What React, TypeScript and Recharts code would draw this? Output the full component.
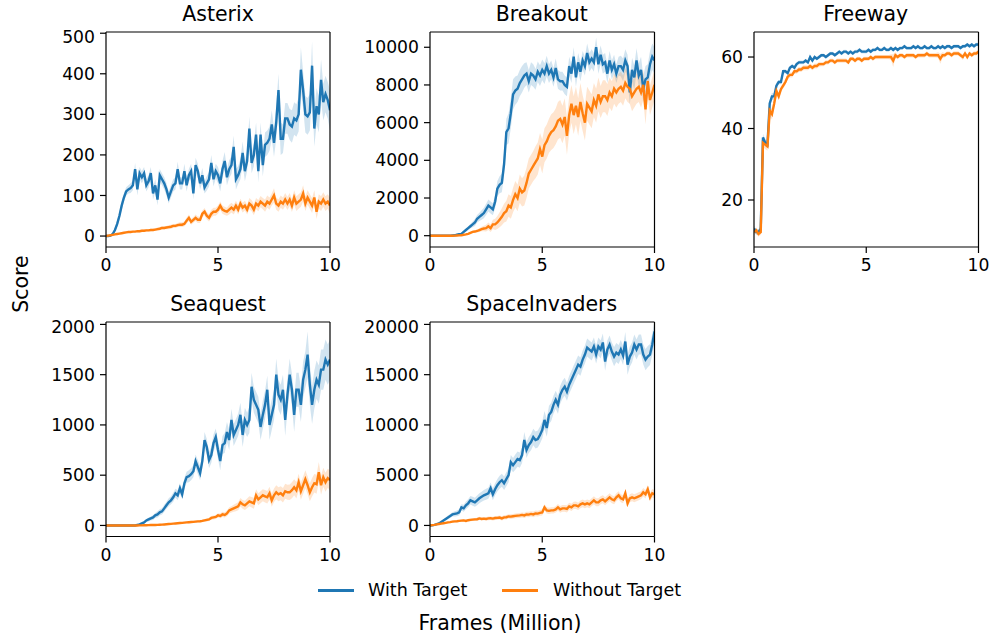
import { ComposedChart, Line, Area, XAxis, YAxis, ReferenceLine } from 'recharts';

const FONT = "'DejaVu Sans', sans-serif";
const BLUE = '#1f77b4';
const ORANGE = '#ff7f0e';

// frames in millions, one sample every 0.1M
const FRAMES = Array.from({ length: 101 }, (_, i) => i / 10);
const X_TICKS = [0, 5, 10];

const AST_W = [
  0, 0, 1, 5, 15, 30, 50, 75, 95, 110,
  115, 118, 125, 165, 115, 155, 145, 155, 125, 135,
  155, 105, 125, 90, 150, 140, 130, 115, 95, 110,
  125, 130, 165, 130, 130, 160, 125, 150, 160, 105,
  175, 160, 130, 150, 120, 130, 140, 180, 140, 160,
  150, 130, 165, 185, 145, 165, 175, 220, 140, 150,
  165, 205, 160, 185, 265, 180, 200, 250, 160, 250,
  175, 225, 230, 240, 275, 230, 280, 360, 240, 240,
  290, 290, 275, 270, 290, 285, 300, 410, 360, 300,
  295, 305, 420, 265, 320, 300, 385, 330, 350, 335,
  310,
];
const AST_W_SD = [
  1, 1, 2, 3, 5, 8, 10, 10, 10, 10,
  10, 12, 12, 15, 15, 15, 15, 15, 15, 15,
  15, 15, 15, 15, 15, 15, 15, 15, 15, 15,
  15, 15, 18, 15, 15, 18, 15, 15, 18, 15,
  18, 18, 15, 18, 15, 18, 18, 20, 18, 18,
  20, 20, 20, 22, 20, 22, 22, 28, 25, 22,
  25, 28, 25, 25, 30, 25, 28, 30, 28, 30,
  28, 30, 30, 30, 35, 35, 40, 40, 40, 35,
  38, 38, 38, 40, 40, 40, 42, 55, 45, 45,
  45, 45, 60, 45, 45, 45, 50, 45, 45, 45,
  50,
];
const AST_O = [
  0, 1, 2, 3, 4, 5, 6, 7, 8, 9,
  10, 10, 11, 11, 12, 12, 13, 13, 14, 14,
  15, 15, 16, 17, 18, 20, 20, 21, 22, 23,
  25, 25, 27, 28, 28, 30, 38, 45, 35, 40,
  45, 40, 40, 55, 60, 50, 45, 55, 60, 60,
  65, 75, 65, 62, 60, 65, 70, 65, 75, 65,
  80, 70, 75, 65, 80, 75, 65, 80, 75, 85,
  80, 75, 85, 80, 90, 100, 80, 75, 85, 80,
  90, 80, 90, 75, 95, 80, 85, 90, 105, 80,
  95, 85, 75, 95, 60, 85, 80, 90, 80, 85,
  75,
];
const AST_O_SD = [
  1, 1, 1, 1, 1, 2, 2, 2, 2, 2,
  2, 2, 2, 2, 3, 3, 3, 3, 3, 3,
  3, 3, 3, 4, 4, 4, 4, 4, 5, 5,
  5, 5, 5, 6, 6, 6, 7, 8, 7, 7,
  8, 8, 8, 8, 9, 9, 9, 10, 10, 10,
  10, 10, 10, 10, 10, 12, 12, 12, 12, 12,
  12, 12, 12, 12, 14, 14, 14, 14, 14, 14,
  14, 15, 15, 15, 15, 18, 15, 15, 15, 15,
  16, 16, 16, 16, 18, 18, 18, 18, 20, 18,
  18, 18, 18, 18, 18, 18, 18, 18, 18, 18,
  20,
];

const BRK_W = [
  0, 0, 0, 0, 0, 0, 0, 0, 0, 0,
  10, 20, 50, 80, 100, 200, 300, 400, 500, 600,
  700, 900, 1000, 1100, 1200, 1400, 1600, 1500, 1400, 1800,
  2500, 2700, 2800, 3800, 5500, 5700, 6500, 7500, 7700, 7800,
  8100, 8300, 8500, 8600, 8200, 8600, 8500, 8300, 8700, 8500,
  8800, 8600, 9000, 8600, 8800, 8400, 8900, 8300, 8200, 8200,
  8000, 7900, 9000, 8600, 9500, 8400, 9200, 8700, 9300, 9000,
  9700, 9200, 9400, 9200, 10000, 9100, 9600, 9100, 9200, 8600,
  9300, 8800, 9100, 8600, 9000, 9000, 8800, 9300, 9000, 7600,
  8800, 8400, 9300, 8500, 8800, 7800, 8300, 8400, 9100, 9500,
  9300,
];
const BRK_W_SD = [
  0, 0, 0, 0, 0, 0, 0, 0, 0, 0,
  10, 20, 30, 40, 50, 60, 80, 100, 120, 150,
  180, 200, 220, 250, 280, 300, 320, 320, 320, 350,
  400, 450, 500, 600, 700, 800, 800, 800, 750, 700,
  700, 700, 650, 600, 600, 600, 600, 550, 550, 550,
  550, 550, 550, 500, 500, 500, 500, 500, 500, 500,
  500, 500, 500, 500, 500, 500, 500, 500, 500, 500,
  500, 500, 500, 500, 500, 500, 500, 500, 500, 500,
  500, 500, 500, 500, 500, 550, 600, 600, 600, 650,
  650, 650, 650, 650, 700, 700, 700, 700, 700, 700,
  700,
];
const BRK_O = [
  0, 0, 0, 0, 0, 0, 0, 0, 0, 0,
  0, 5, 10, 15, 20, 50, 70, 100, 150, 200,
  220, 250, 300, 350, 380, 400, 500, 400, 600, 600,
  700, 850, 1000, 1200, 1300, 1600, 1500, 1900, 2200, 2000,
  2500, 2300, 2400, 2800, 3300, 3500, 3700, 3900, 4100, 4600,
  4200, 4800, 5000, 5300, 5500, 5600, 5800, 6100, 6200, 5900,
  6300, 5300, 6400, 7000, 6400, 6900, 6300, 7100, 6500, 6000,
  7000, 6800, 6600, 7200, 6900, 7500, 7100, 7400, 7400, 7200,
  7600, 7400, 7800, 7600, 7800, 7900, 7700, 8100, 7900, 7800,
  7400, 7600, 7800, 7900, 7600, 8000, 6700, 8200, 7200, 7600,
  8000,
];
const BRK_O_SD = [
  0, 0, 0, 0, 0, 0, 0, 0, 0, 0,
  0, 5, 5, 10, 10, 20, 30, 40, 50, 60,
  70, 80, 100, 120, 150, 180, 200, 200, 250, 300,
  350, 400, 450, 500, 550, 600, 600, 650, 700, 700,
  750, 750, 800, 800, 800, 800, 800, 850, 850, 850,
  900, 900, 900, 900, 950, 950, 950, 1000, 1000, 1000,
  1000, 1000, 1000, 1000, 1000, 1000, 1000, 1000, 950, 950,
  900, 900, 900, 900, 900, 900, 850, 850, 850, 850,
  800, 800, 800, 800, 800, 800, 800, 800, 800, 800,
  800, 800, 800, 800, 800, 800, 800, 800, 800, 800,
  800,
];

const FRW_W = [
  12, 11, 11, 12, 37.5, 36, 35.5, 47, 49, 49,
  52, 53, 53, 56, 56, 55.5, 57, 57.5, 57, 58,
  58.5, 58.5, 58.5, 59, 58.5, 60, 59, 60, 59.5, 60,
  60.5, 60.5, 60, 60.5, 61, 61, 60.5, 61, 61.5, 61,
  61.5, 61.5, 61, 61.5, 61, 61.5, 61.5, 62, 61.5, 61.5,
  61.5, 62, 61.5, 62, 62, 62.5, 62, 62, 62.5, 62,
  62, 62.5, 62, 62.5, 62, 62.5, 62.5, 63, 62.5, 62.5,
  62.5, 63, 62.5, 63, 62.5, 62.5, 63, 62.5, 62.5, 63,
  62.5, 62.5, 63, 62.5, 63, 62.5, 63, 63, 62.5, 63,
  63, 63, 62.5, 63, 63, 63.5, 63, 63.5, 63, 63.5,
  63.5,
];
const FRW_W_SD = [
  0.8, 0.8, 0.8, 0.8, 1, 1, 1, 1, 1, 0.8,
  0.8, 0.6, 0.6, 0.6, 0.6, 0.5, 0.5, 0.5, 0.5, 0.5,
  0.5, 0.5, 0.5, 0.5, 0.5, 0.5, 0.5, 0.5, 0.5, 0.5,
  0.5, 0.5, 0.5, 0.5, 0.5, 0.5, 0.5, 0.5, 0.5, 0.5,
  0.5, 0.5, 0.5, 0.5, 0.5, 0.5, 0.5, 0.5, 0.5, 0.5,
  0.5, 0.5, 0.5, 0.5, 0.5, 0.5, 0.5, 0.5, 0.5, 0.5,
  0.5, 0.5, 0.5, 0.5, 0.5, 0.5, 0.5, 0.5, 0.5, 0.5,
  0.5, 0.5, 0.5, 0.5, 0.5, 0.5, 0.5, 0.5, 0.5, 0.5,
  0.5, 0.5, 0.5, 0.5, 0.5, 0.5, 0.5, 0.5, 0.5, 0.5,
  0.5, 0.5, 0.5, 0.5, 0.5, 0.5, 0.5, 0.5, 0.5, 0.5,
  0.5,
];
const FRW_O = [
  11, 11.5, 10.5, 11, 36, 35.5, 35, 45, 44, 47,
  50.5, 49, 51, 52, 53, 54.5, 55, 55, 56, 56,
  56.5, 56.5, 57, 57, 57, 57.5, 57, 57.5, 57.5, 58,
  58, 58, 58.5, 58.5, 59, 59, 58.5, 59, 59, 59,
  59, 59, 58.5, 59.5, 59.5, 59, 59.5, 59.5, 59, 59.5,
  59.5, 59.5, 60, 59.5, 60, 60, 60, 60, 60, 60,
  60, 60, 59, 60.5, 60, 60.5, 60.5, 60, 60.5, 60.5,
  60.5, 60.5, 60, 60.5, 60.5, 60.5, 60.5, 61, 60.5, 60.5,
  60.5, 60.5, 60.5, 59.5, 60.5, 60.5, 61, 61, 60.5, 61,
  61, 61, 60.5, 60, 61, 60, 61, 60.5, 61, 61,
  61.5,
];
const FRW_O_SD = [
  0.8, 0.8, 0.8, 0.8, 1.2, 1.2, 1.2, 1.5, 1.5, 1.2,
  1, 1, 0.8, 0.8, 0.8, 0.7, 0.7, 0.7, 0.7, 0.7,
  0.7, 0.7, 0.7, 0.7, 0.7, 0.7, 0.7, 0.7, 0.7, 0.7,
  0.6, 0.6, 0.6, 0.6, 0.6, 0.6, 0.6, 0.6, 0.6, 0.6,
  0.6, 0.6, 0.6, 0.6, 0.6, 0.6, 0.6, 0.6, 0.6, 0.6,
  0.6, 0.6, 0.6, 0.6, 0.6, 0.6, 0.6, 0.6, 0.6, 0.6,
  0.6, 0.8, 1.8, 0.8, 0.6, 0.6, 0.6, 0.6, 0.6, 0.6,
  0.6, 0.6, 0.6, 0.6, 0.6, 0.6, 0.6, 0.6, 0.6, 0.6,
  0.6, 0.6, 0.8, 1.4, 0.8, 0.6, 0.6, 0.6, 0.6, 0.6,
  0.6, 0.6, 0.6, 0.8, 0.6, 0.8, 0.6, 0.6, 0.6, 0.6,
  0.6,
];

const SEA_W = [
  0, 0, 0, 0, 0, 0, 0, 0, 0, 0,
  0, 0, 0, 0, 5, 10, 20, 30, 50, 60,
  70, 80, 100, 110, 130, 140, 170, 200, 230, 250,
  280, 320, 300, 370, 310, 420, 480, 490, 510, 540,
  640, 580, 520, 640, 850, 780, 650, 700, 820, 880,
  750, 640, 800, 820, 930, 850, 1050, 900, 950, 1000,
  1100, 900, 1050, 1000, 1050, 1380, 1250, 1200, 1150, 980,
  1100, 1200, 1350, 1000, 1100, 1200, 1500, 1300, 1250, 1350,
  1050, 1300, 1500, 1350, 1100, 1350, 1350, 1200, 1450, 1550,
  1700, 1400, 1200, 1350, 1450, 1400, 1550, 1550, 1650, 1600,
  1650,
];
const SEA_W_SD = [
  0, 0, 0, 0, 0, 0, 0, 0, 0, 0,
  0, 0, 0, 0, 3, 5, 8, 10, 15, 20,
  20, 25, 25, 30, 30, 30, 35, 35, 40, 40,
  45, 45, 50, 50, 50, 55, 55, 60, 60, 60,
  65, 70, 70, 70, 80, 80, 80, 80, 85, 85,
  90, 90, 90, 100, 100, 100, 110, 110, 110, 110,
  120, 120, 120, 120, 130, 140, 130, 130, 130, 130,
  140, 140, 140, 150, 150, 150, 160, 150, 150, 150,
  160, 160, 160, 160, 170, 170, 170, 170, 180, 180,
  230, 200, 190, 190, 190, 190, 200, 200, 200, 200,
  200,
];
const SEA_O = [
  0, 0, 0, 0, 0, 0, 0, 0, 0, 0,
  0, 0, 0, 0, 0, 1, 1, 2, 2, 3,
  4, 5, 5, 6, 7, 8, 10, 12, 14, 16,
  18, 20, 22, 24, 26, 28, 30, 32, 34, 36,
  38, 40, 42, 45, 50, 55, 60, 75, 80, 85,
  100, 95, 110, 105, 120, 150, 160, 170, 180, 190,
  230, 210, 200, 220, 240, 230, 220, 300, 260, 280,
  300, 290, 280, 320, 250, 300, 330, 310, 320, 300,
  340, 330, 330, 350, 380, 350, 430, 340, 400, 460,
  400, 330, 380, 420, 410, 530, 400, 480, 430, 470,
  450,
];
const SEA_O_SD = [
  0, 0, 0, 0, 0, 0, 0, 0, 0, 0,
  0, 0, 0, 0, 0, 1, 1, 1, 1, 2,
  2, 2, 3, 3, 3, 4, 4, 5, 5, 5,
  6, 6, 7, 7, 8, 8, 9, 9, 10, 10,
  10, 11, 12, 13, 14, 15, 16, 18, 20, 20,
  22, 24, 25, 26, 28, 30, 32, 35, 38, 40,
  42, 44, 46, 48, 50, 52, 55, 60, 60, 60,
  60, 62, 62, 65, 65, 68, 70, 70, 70, 72,
  75, 75, 78, 80, 80, 82, 85, 85, 88, 90,
  90, 90, 92, 92, 95, 100, 95, 95, 95, 95,
  100,
];

const SPI_W = [
  0, 20, 50, 120, 200, 350, 500, 650, 800, 950,
  1100, 1150, 1200, 1300, 1800, 1700, 2000, 2200, 2500, 2400,
  2300, 2500, 2700, 2850, 3000, 3100, 3200, 3700, 3100, 3600,
  4000, 4300, 4500, 4200, 4600, 5000, 6300, 6000, 6300, 6600,
  6500, 7000, 8500, 7500, 8000, 8300, 8800, 8500, 8600, 9000,
  9500, 10500, 9700, 11000, 11300, 12000, 12500, 12000, 13000, 13500,
  13800, 13300, 14000, 14500, 15000, 15500, 16000, 15800, 16500, 17000,
  17700, 17500, 17300, 17800, 17000, 17800, 17500, 18200, 16300, 17500,
  18000, 17300, 16800, 17200, 17000, 17500, 16900, 18300, 16000, 16800,
  17200, 18000, 17500, 18000, 18000, 17000, 16500, 16800, 17000, 18000,
  19300,
];
const SPI_W_SD = [
  0, 20, 40, 60, 80, 100, 120, 150, 180, 200,
  220, 250, 280, 300, 320, 350, 380, 400, 420, 450,
  450, 480, 500, 500, 520, 550, 550, 580, 600, 600,
  620, 650, 650, 680, 700, 700, 720, 720, 750, 750,
  750, 780, 800, 800, 800, 820, 820, 850, 850, 850,
  850, 880, 880, 900, 900, 900, 900, 900, 900, 900,
  900, 900, 900, 900, 900, 900, 900, 900, 900, 900,
  900, 900, 900, 900, 900, 900, 900, 900, 900, 900,
  900, 900, 950, 950, 950, 950, 950, 950, 1000, 1000,
  1000, 1000, 1000, 1000, 1000, 1000, 1050, 1050, 1050, 1050,
  1100,
];
const SPI_O = [
  0, 30, 60, 100, 140, 180, 220, 260, 300, 330,
  380, 400, 420, 450, 480, 500, 450, 520, 550, 580,
  600, 620, 700, 650, 680, 650, 700, 720, 680, 740,
  750, 780, 700, 800, 820, 900, 880, 920, 950, 980,
  1000, 1050, 1000, 1100, 1080, 1150, 1100, 1200, 1180, 1250,
  1300, 1800, 1500, 1450, 1500, 1500, 1600, 1800, 1600, 1700,
  1700, 1650, 1900, 1800, 2000, 2000, 1900, 2100, 2200, 2100,
  2200, 2100, 2300, 2500, 2300, 2300, 2500, 2600, 2400, 2600,
  2800, 2600, 2500, 2800, 3000, 2700, 2600, 3200, 2200, 2700,
  2800, 2700, 2800, 2900, 3000, 3300, 3100, 3600, 2800, 3200,
  3100,
];
const SPI_O_SD = [
  0, 10, 20, 30, 40, 50, 60, 70, 80, 90,
  100, 100, 110, 110, 120, 120, 130, 130, 140, 140,
  150, 150, 160, 160, 170, 170, 180, 180, 190, 190,
  200, 200, 210, 210, 220, 220, 230, 230, 240, 240,
  250, 250, 260, 260, 270, 270, 280, 280, 290, 290,
  300, 300, 300, 310, 310, 320, 320, 330, 330, 340,
  340, 350, 350, 360, 360, 370, 370, 380, 380, 390,
  390, 400, 400, 400, 400, 400, 400, 400, 400, 400,
  400, 400, 400, 400, 400, 400, 400, 400, 400, 400,
  400, 400, 400, 400, 400, 420, 420, 420, 420, 420,
  420,
];

const PANELS = [
  { title: 'Asterix', w: AST_W, wSd: AST_W_SD, o: AST_O, oSd: AST_O_SD, domain: [-27, 503], ticks: [0, 100, 200, 300, 400, 500], left: 106, top: 32, pw: 224, ph: 215 },
  { title: 'Breakout', w: BRK_W, wSd: BRK_W_SD, o: BRK_O, oSd: BRK_O_SD, domain: [-600, 10810], ticks: [0, 2000, 4000, 6000, 8000, 10000], left: 429.5, top: 32, pw: 224.5, ph: 215 },
  { title: 'Freeway', w: FRW_W, wSd: FRW_W_SD, o: FRW_O, oSd: FRW_O_SD, domain: [6.85, 67], ticks: [20, 40, 60], left: 753.5, top: 32, pw: 224.5, ph: 215 },
  { title: 'Seaquest', w: SEA_W, wSd: SEA_W_SD, o: SEA_O, oSd: SEA_O_SD, domain: [-110, 2024], ticks: [0, 500, 1000, 1500, 2000], left: 106, top: 322, pw: 224, ph: 214.5 },
  { title: 'SpaceInvaders', w: SPI_W, wSd: SPI_W_SD, o: SPI_O, oSd: SPI_O_SD, domain: [-1100, 20240], ticks: [0, 5000, 10000, 15000, 20000], left: 429.5, top: 322, pw: 224.5, ph: 214.5 },
];

const YW = 80;
const axisLine = { stroke: '#000', strokeWidth: 1.2 };
const tickStyle = { fill: '#000', fontSize: 17.2, fontFamily: FONT };

function Panel({ p }: { p: typeof PANELS[number] }) {
  const data = FRAMES.map((x, i) => ({
    x,
    w: p.w[i],
    wb: [p.w[i] - p.wSd[i], p.w[i] + p.wSd[i]],
    o: p.o[i],
    ob: [p.o[i] - p.oSd[i], p.o[i] + p.oSd[i]],
  }));
  return (
    <>
      <div style={{ position: 'absolute', left: p.left, width: p.pw, top: p.top - 30, lineHeight: '24px', textAlign: 'center', fontSize: 20.5 }}>
        {p.title}
      </div>
      <div style={{ position: 'absolute', left: p.left - YW, top: p.top - 5 }}>
        <ComposedChart width={YW + p.pw + 20} height={5 + p.ph + 30} data={data} margin={{ top: 5, right: 20, bottom: 0, left: 0 }}>
          <XAxis dataKey="x" type="number" domain={[0, 10]} ticks={X_TICKS} height={30} allowDataOverflow
            tickSize={6} tickMargin={6} tick={tickStyle} axisLine={axisLine} tickLine={axisLine} />
          <YAxis type="number" domain={p.domain} ticks={p.ticks} width={YW} allowDataOverflow
            tickSize={6} tickMargin={5} tick={tickStyle} axisLine={axisLine} tickLine={axisLine} />
          <Area dataKey="wb" type="linear" stroke="none" fill={BLUE} fillOpacity={0.2} isAnimationActive={false} activeDot={false} />
          <Line dataKey="w" type="linear" stroke={BLUE} strokeWidth={2.4} dot={false} isAnimationActive={false} />
          <Area dataKey="ob" type="linear" stroke="none" fill={ORANGE} fillOpacity={0.2} isAnimationActive={false} activeDot={false} />
          <Line dataKey="o" type="linear" stroke={ORANGE} strokeWidth={2.4} dot={false} isAnimationActive={false} />
          <ReferenceLine x={10} stroke="#000" strokeWidth={1.2} />
          <ReferenceLine y={p.domain[1]} stroke="#000" strokeWidth={1.2} />
        </ComposedChart>
      </div>
    </>
  );
}

export default function App() {
  return (
    <div style={{ position: 'absolute', left: 0, top: 0, width: 992, height: 636, background: '#fff', fontFamily: FONT, color: '#000' }}>
      {PANELS.map(p => <Panel key={p.title} p={p} />)}
      <div style={{ position: 'absolute', left: 21, top: 284, transform: 'translate(-50%, -50%) rotate(-90deg)', fontSize: 20.5, lineHeight: '24px', whiteSpace: 'nowrap' }}>
        Score
      </div>
      <div style={{ position: 'absolute', left: 318, top: 589, width: 36, height: 2.5, background: BLUE }} />
      <div style={{ position: 'absolute', left: 368, top: 580, fontSize: 17.5, lineHeight: '20px', whiteSpace: 'nowrap' }}>With Target</div>
      <div style={{ position: 'absolute', left: 502, top: 589, width: 36, height: 2.5, background: ORANGE }} />
      <div style={{ position: 'absolute', left: 553, top: 580, fontSize: 17.5, lineHeight: '20px', whiteSpace: 'nowrap' }}>Without Target</div>
      <div style={{ position: 'absolute', left: 400, width: 200, top: 611, fontSize: 20.5, lineHeight: '24px', textAlign: 'center' }}>
        Frames (Million)
      </div>
    </div>
  );
}
